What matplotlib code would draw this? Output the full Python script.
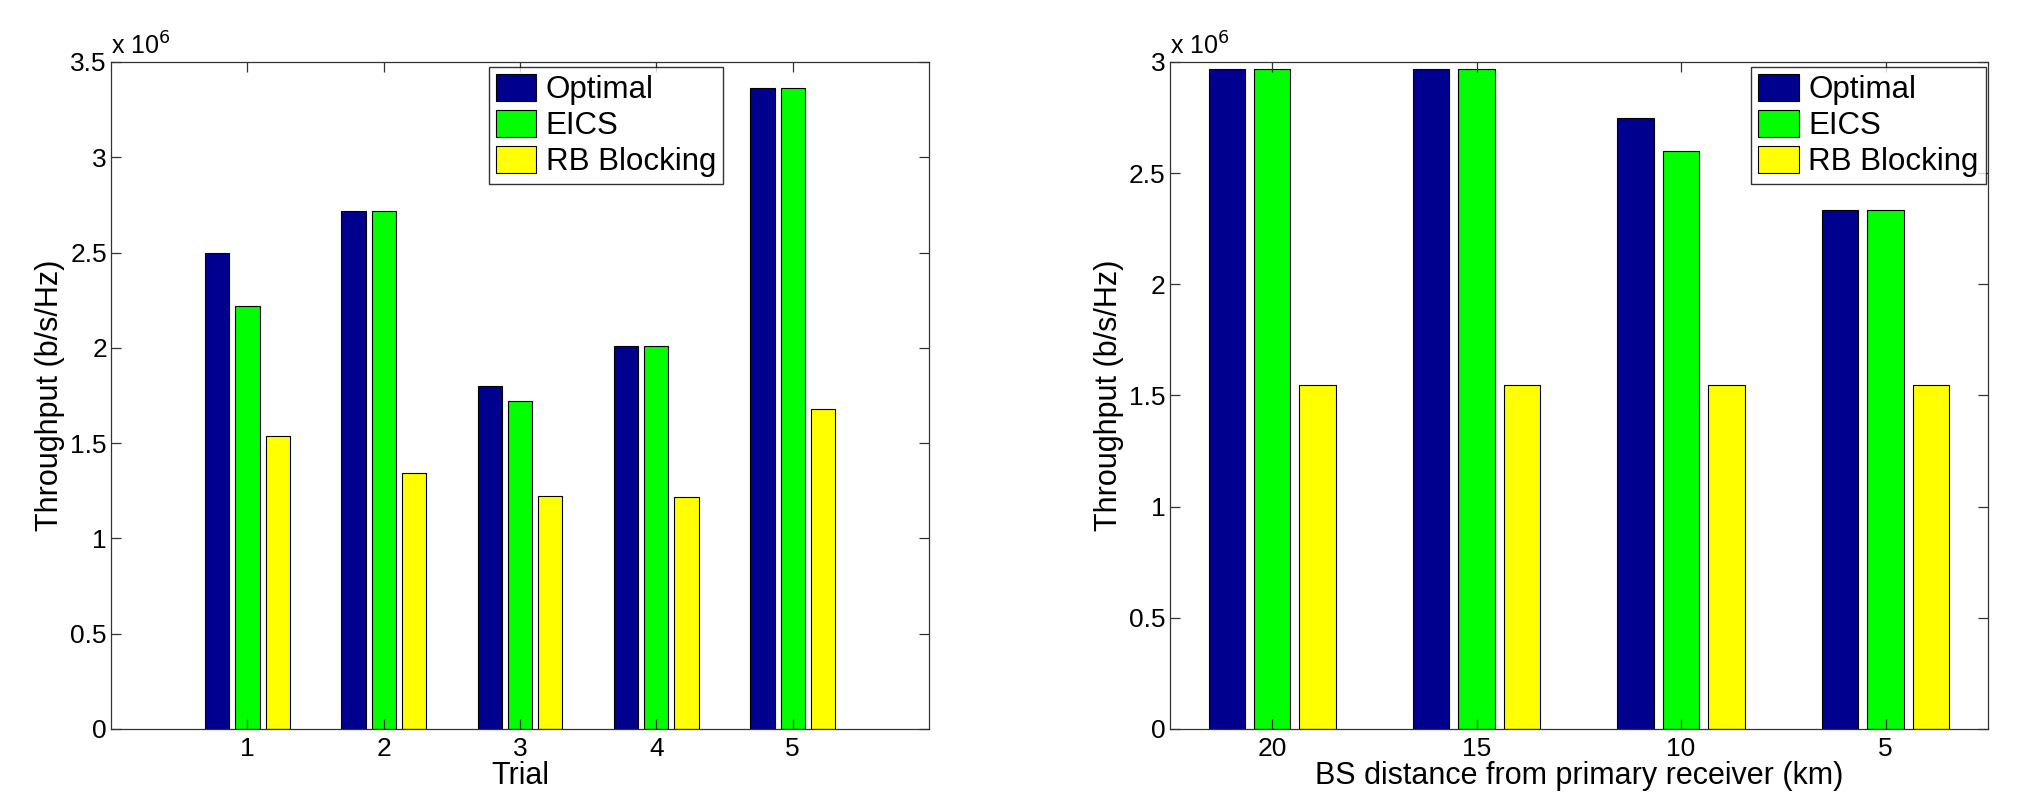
import numpy as np
import matplotlib
matplotlib.use("Agg")
import matplotlib.pyplot as plt
from matplotlib.ticker import FuncFormatter

plt.rcParams['font.family'] = ['Liberation Sans', 'DejaVu Sans']

# Left chart: throughput per trial (x 1e6 b/s/Hz)
trials = ["1", "2", "3", "4", "5"]
opt_trial = [2.50, 2.72, 1.80, 2.01, 3.365]
eics_trial = [2.22, 2.72, 1.72, 2.01, 3.365]
rb_trial = [1.535, 1.345, 1.225, 1.215, 1.68]

# Right chart: throughput vs BS distance
distances = ["20", "15", "10", "5"]
opt_dist = [2.97, 2.97, 2.75, 2.335]
eics_dist = [2.97, 2.97, 2.60, 2.335]
rb_dist = [1.546, 1.546, 1.546, 1.546]

series_names = ["Optimal", "EICS", "RB Blocking"]
colors = ["#00008F", "#00FF00", "#FFFF00"]

fig = plt.figure(figsize=(20.23, 7.96), dpi=100)
ax1 = fig.add_axes([0.0549, 0.0842, 0.4043, 0.838])
ax2 = fig.add_axes([0.5783, 0.0842, 0.4043, 0.838])

fmt = FuncFormatter(lambda v, p: "%g" % (v / 1e6))


def draw(ax, labels, data, ymax, xlabel, legend_anchor):
    x = np.arange(1, len(labels) + 1)
    w = 0.178
    offs = [-0.222, 0.0, 0.222]
    for vals, off, c, name in zip(data, offs, colors, series_names):
        ax.bar(x + off, np.array(vals) * 1e6, width=w, color=c,
               edgecolor="black", linewidth=0.8, label=name)
    ax.set_xticks(x)
    ax.set_xticklabels(labels)
    ax.set_ylim(0, ymax * 1e6)
    ax.set_yticks(np.arange(0, ymax + 0.01, 0.5) * 1e6)
    ax.yaxis.set_major_formatter(fmt)
    ax.tick_params(direction="in", length=7, width=0.9, top=True, right=True,
                   labelsize=19, colors="#333333", labelcolor="black")
    ax.tick_params(axis="y", pad=3)
    ax.tick_params(axis="x", pad=6)
    for s in ax.spines.values():
        s.set_color("#333333")
        s.set_linewidth(0.9)
    ax.set_xlabel(xlabel, fontsize=22, labelpad=0)
    ax.set_ylabel("Throughput (b/s/Hz)", fontsize=22, labelpad=4)
    ax.text(0.0, 1.004, r"x 10$^{6}$", transform=ax.transAxes,
            fontsize=18, ha="left", va="bottom")
    leg = ax.legend(loc="upper left", bbox_to_anchor=legend_anchor,
                    fontsize=22.5, frameon=True, fancybox=False,
                    handlelength=1.3, handleheight=0.95, handletextpad=0.3,
                    labelspacing=0.15, borderpad=0.22, borderaxespad=0)
    leg.get_frame().set_edgecolor("black")
    leg.get_frame().set_linewidth(1.0)


draw(ax1, trials, [opt_trial, eics_trial, rb_trial], 3.5, "Trial", (0.462, 0.992))
ax1.set_xlim(0, 6)
draw(ax2, distances, [opt_dist, eics_dist, rb_dist], 3.0,
     "BS distance from primary receiver (km)", (0.711, 0.992))
ax2.set_xlim(0.5, 4.5)

fig.savefig("out.png", dpi=100)
